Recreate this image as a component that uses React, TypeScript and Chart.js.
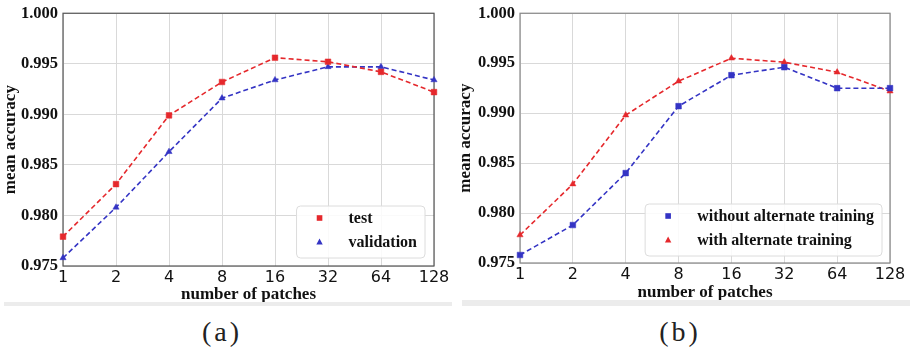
import React, { useEffect, useRef } from "react";
import { Chart, registerables } from "chart.js";
Chart.register(...registerables);

// ---- data ----
const patchLabels = ["1", "2", "4", "8", "16", "32", "64", "128"];
const yMin = 0.975;
const yMax = 1.0;
const yStep = 0.005;

const testA = [0.9779, 0.9831, 0.9899, 0.9932, 0.9956, 0.9952, 0.9942, 0.9922];
const validationA = [0.9758, 0.9808, 0.9863, 0.9916, 0.9934, 0.9947, 0.9947, 0.9934];

const withoutAltB = [0.9758, 0.9788, 0.984, 0.9907, 0.9938, 0.9946, 0.9925, 0.9925];
const withAltB = [0.9778, 0.9829, 0.9898, 0.9932, 0.9955, 0.9951, 0.9941, 0.9922];

const RED = "#e5282c";
const BLUE = "#3434c4";
const SERIF = "'Liberation Serif', 'Times New Roman', serif";
const SANS = "'DejaVu Sans', sans-serif";

const framePlugin = {
  id: "frame",
  beforeDatasetsDraw(chart: any, _a: any, opts: any) {
    const { ctx, chartArea } = chart;
    ctx.save();
    ctx.strokeStyle = opts.color || "#666";
    ctx.lineWidth = 1.2;
    ctx.strokeRect(chartArea.left, chartArea.top, chartArea.right - chartArea.left, chartArea.bottom - chartArea.top);
    ctx.restore();
  },
};

const boxLegendPlugin = {
  id: "boxLegend",
  afterDraw(chart: any, _a: any, opts: any) {
    const { ctx, chartArea } = chart;
    const items = chart.data.datasets;
    ctx.save();
    ctx.font = `bold 16px ${SERIF}`;
    const textW = Math.max(...items.map((d: any) => ctx.measureText(d.label).width));
    const w = 52 + textW + 8;
    const h = 52;
    const x = chartArea.right - (opts.right ?? 9) - w;
    const y = chartArea.bottom - (opts.bottom ?? 8) - h;
    ctx.beginPath();
    (ctx as any).roundRect(x, y, w, h, 4);
    ctx.fillStyle = "rgba(255,255,255,0.85)";
    ctx.fill();
    ctx.strokeStyle = "#dcdcdc";
    ctx.lineWidth = 1;
    ctx.stroke();
    items.forEach((d: any, i: number) => {
      const cy = y + 12 + i * 24;
      const cx = x + 23;
      ctx.fillStyle = d.borderColor;
      if (d.pointStyle === "rect") {
        ctx.fillRect(cx - 2.8, cy - 2.8, 5.6, 5.6);
      } else {
        ctx.beginPath();
        ctx.moveTo(cx, cy - 3.5);
        ctx.lineTo(cx + 3.2, cy + 2.5);
        ctx.lineTo(cx - 3.2, cy + 2.5);
        ctx.closePath();
        ctx.fill();
      }
      ctx.fillStyle = "#111";
      ctx.textBaseline = "middle";
      ctx.textAlign = "left";
      ctx.fillText(d.label, x + 52, cy + 1);
    });
    ctx.restore();
  },
};

function makeDataset(label: string, data: number[], color: string, style: string) {
  return {
    label,
    data,
    borderColor: color,
    backgroundColor: color,
    pointBackgroundColor: color,
    pointBorderColor: color,
    pointBorderWidth: 0.5,
    pointStyle: style,
    pointRadius: style === "rect" ? 4 : 3.6,
    borderWidth: 1.6,
    borderDash: [5, 3],
    tension: 0,
    fill: false,
  };
}

type PanelProps = {
  left: number;
  width: number;
  height: number;
  padTop: number;
  padRight: number;
  yAxisWidth: number;
  xAxisHeight: number;
  frameColor: string;
  legendRight: number;
  legendBottom: number;
  titleBottomPad: number;
  datasets: any[];
};

function Panel(p: PanelProps) {
  const ref = useRef<HTMLCanvasElement>(null);
  useEffect(() => {
    if (!ref.current) return;
    const chart = new Chart(ref.current, {
      type: "line",
      data: { labels: patchLabels, datasets: p.datasets },
      plugins: [framePlugin, boxLegendPlugin],
      options: {
        responsive: false,
        animation: false,
        devicePixelRatio: 1,
        layout: { padding: { top: p.padTop, right: p.padRight, left: 0, bottom: 0 } },
        plugins: {
          legend: { display: false },
          tooltip: { enabled: false },
          frame: { color: p.frameColor },
          boxLegend: { right: p.legendRight, bottom: p.legendBottom },
        } as any,
        scales: {
          x: {
            type: "category",
            offset: false,
            grid: { color: "#d9d9d9", lineWidth: 1, drawTicks: false, offset: false },
            border: { display: false },
            ticks: { color: "#111", font: { family: SANS, size: 16 }, padding: 2, maxRotation: 0, autoSkip: false },
            title: {
              display: true,
              text: "number of patches",
              color: "#111",
              font: { family: SERIF, size: 17, weight: "bold", lineHeight: 1.2 },
              padding: { top: 0, bottom: p.titleBottomPad },
            },
            afterFit: (s: any) => {
              s.height = p.xAxisHeight;
            },
          },
          y: {
            type: "linear",
            min: yMin,
            max: yMax,
            grid: { color: "#d9d9d9", lineWidth: 1, drawTicks: false },
            border: { display: false },
            ticks: {
              stepSize: yStep,
              color: "#111",
              font: { family: SERIF, size: 16.5, weight: "bold", lineHeight: 1 },
              padding: 5,
              callback: (v: any) => Number(v).toFixed(3),
            },
            title: {
              display: true,
              text: "mean accuracy",
              color: "#111",
              font: { family: SERIF, size: 17, weight: "bold", lineHeight: 1.2 },
              padding: 0,
            },
            afterFit: (s: any) => {
              s.width = p.yAxisWidth;
            },
          },
        },
      } as any,
    });
    return () => chart.destroy();
  }, []);
  return (
    <canvas
      ref={ref}
      width={p.width}
      height={p.height}
      style={{ position: "absolute", left: p.left, top: 0, width: p.width, height: p.height }}
    />
  );
}

export default function App() {
  return (
    <div style={{ position: "fixed", left: 0, top: 0, width: 912, height: 354, background: "#fff", overflow: "hidden" }}>
      <Panel
        left={0}
        width={455}
        height={302}
        padTop={12}
        padRight={21}
        yAxisWidth={63}
        xAxisHeight={36}
        frameColor="#555"
        legendRight={9}
        legendBottom={8}
        titleBottomPad={-3}
        datasets={[makeDataset("test", testA, RED, "rect"), makeDataset("validation", validationA, BLUE, "triangle")]}
      />
      <Panel
        left={455}
        width={457}
        height={300}
        padTop={9.5}
        padRight={22}
        yAxisWidth={65}
        xAxisHeight={37}
        frameColor="#888"
        legendRight={8}
        legendBottom={7}
        titleBottomPad={-3}
        datasets={[
          makeDataset("without alternate training", withoutAltB, BLUE, "rect"),
          makeDataset("with alternate training", withAltB, RED, "triangle"),
        ]}
      />
      <div style={{ position: "absolute", left: 4, top: 302, width: 448, height: 4, background: "#ececec" }} />
      <div style={{ position: "absolute", left: 462, top: 300, width: 448, height: 6, background: "#ececec" }} />
      <div
        style={{
          position: "absolute",
          left: 172,
          width: 100,
          top: 314,
          textAlign: "center",
          fontFamily: SERIF,
          fontSize: 28,
          letterSpacing: 3,
          color: "#222",
          lineHeight: "36px",
        }}
      >
        (a)
      </div>
      <div
        style={{
          position: "absolute",
          left: 630,
          width: 100,
          top: 314,
          textAlign: "center",
          fontFamily: SERIF,
          fontSize: 28,
          letterSpacing: 3,
          color: "#222",
          lineHeight: "36px",
        }}
      >
        (b)
      </div>
    </div>
  );
}
